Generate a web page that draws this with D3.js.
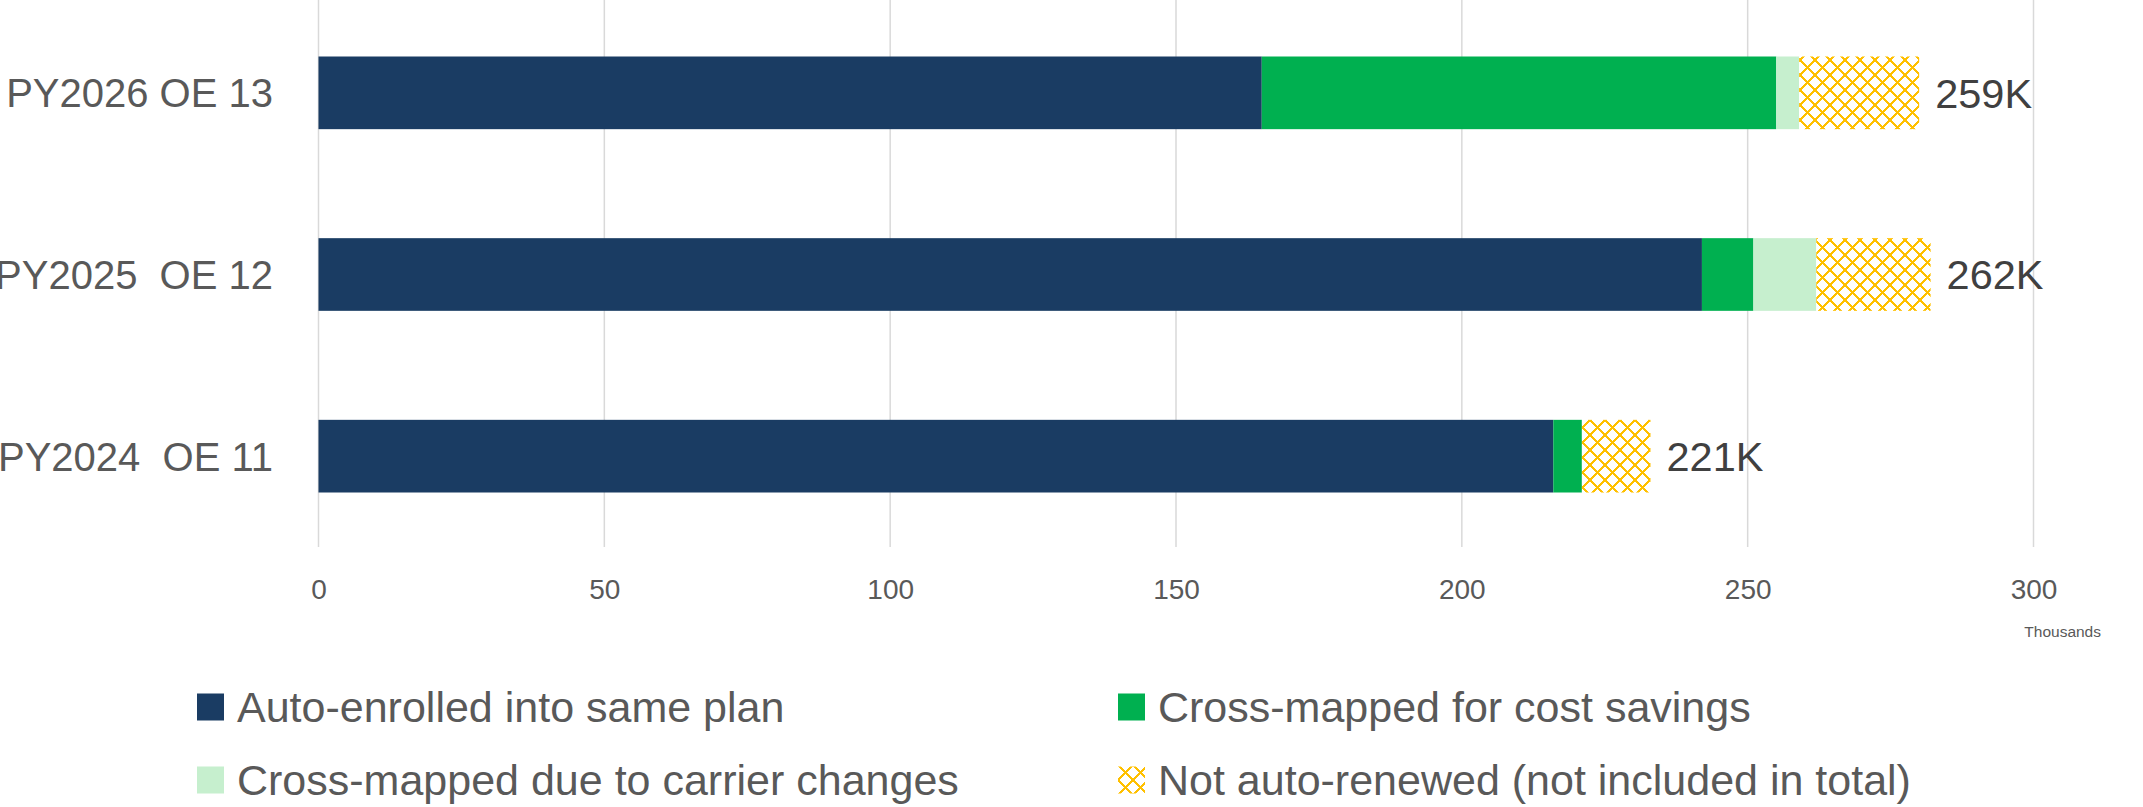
<!DOCTYPE html>
<html>
<head>
<meta charset="utf-8">
<script src="https://cdn.jsdelivr.net/npm/d3@7"></script>
<style>
  html, body { margin: 0; padding: 0; background: #fff; }
  svg { display: block; font-family: "Liberation Sans", Arial, sans-serif; }
</style>
</head>
<body>
<svg id="chart" width="2143" height="807"></svg>
<script>
// ---- Data (thousands) ----
const categories = ["PY2026 OE 13", "PY2025  OE 12", "PY2024  OE 11"];
const autoEnrolled = [165, 242, 216];
const costSavings = [90, 9, 5];
const carrierChanges = [4, 11, 0];
const notRenewed = [21, 20, 12];
const xTicks = [0, 50, 100, 150, 200, 250, 300];
const seriesNames = [
  "Auto-enrolled into same plan",
  "Cross-mapped for cost savings",
  "Cross-mapped due to carrier changes",
  "Not auto-renewed (not included in total)"
];
const seriesKeys = ["auto", "cost", "carrier", "notRenewed"];

const rows = categories.map((c, i) => ({
  cat: c,
  auto: autoEnrolled[i],
  cost: costSavings[i],
  carrier: carrierChanges[i],
  notRenewed: notRenewed[i]
}));

const svg = d3.select("#chart");

// pattern
const defs = svg.append("defs");
const pat = defs.append("pattern")
  .attr("id", "hatch")
  .attr("patternUnits", "userSpaceOnUse")
  .attr("width", 15).attr("height", 15);
pat.append("rect").attr("width", 15).attr("height", 15).attr("fill", "#fff");
pat.append("path")
  .attr("d", "M-2,-2 L17,17 M17,-2 L-2,17")
  .attr("stroke", "#FFC000")
  .attr("stroke-width", 1.5)
  .attr("shape-rendering", "crispEdges")
  .attr("fill", "none");

const colors = {
  auto: "#1A3C63",
  cost: "#00B050",
  carrier: "#C6EFCE",
  notRenewed: "url(#hatch)"
};

const x = d3.scaleLinear().domain([0, 300]).range([318.5, 2033.5]);
const y = d3.scaleBand().domain(categories).range([2, 547])
  .paddingInner(0.6).paddingOuter(0.3);

// gridlines
svg.append("g")
  .selectAll("line")
  .data(xTicks)
  .join("line")
  .attr("x1", d => x(d)).attr("x2", d => x(d))
  .attr("y1", 0).attr("y2", 547)
  .attr("stroke", "#D9D9D9")
  .attr("stroke-width", 1.5);

// x axis labels
const xAxis = d3.axisBottom(x).tickValues(xTicks).tickSize(0).tickPadding(0);
const gx = svg.append("g").attr("transform", "translate(0,579)").call(xAxis);
gx.select(".domain").remove();
gx.selectAll("text")
  .attr("font-size", 28)
  .attr("font-family", "Liberation Sans, Arial, sans-serif")
  .attr("fill", "#595959")
  .attr("dy", "0.71em")
  .attr("y", 0);

svg.append("text")
  .attr("x", 2101).attr("y", 637)
  .attr("text-anchor", "end")
  .attr("font-size", 15.5)
  .attr("fill", "#595959")
  .text("Thousands");

// stacked bars
const stack = d3.stack().keys(seriesKeys);
const stacked = stack(rows);

svg.append("g")
  .selectAll("g")
  .data(stacked)
  .join("g")
  .attr("fill", d => colors[d.key])
  .selectAll("rect")
  .data(d => d)
  .join("rect")
  .attr("x", d => x(d[0]))
  .attr("width", d => Math.max(0, x(d[1]) - x(d[0])))
  .attr("y", d => y(d.data.cat))
  .attr("height", y.bandwidth());

// category labels
svg.append("g")
  .selectAll("text")
  .data(categories)
  .join("text")
  .attr("x", 273)
  .attr("y", d => y(d) + y.bandwidth() / 2)
  .attr("dy", "0.36em")
  .attr("text-anchor", "end")
  .attr("font-size", 40)
  .attr("fill", "#595959")
  .style("white-space", "pre")
  .text(d => d);

// value labels
svg.append("g")
  .selectAll("text")
  .data(rows)
  .join("text")
  .attr("x", d => x(d.auto + d.cost + d.carrier + d.notRenewed) + 16)
  .attr("y", d => y(d.cat) + y.bandwidth() / 2)
  .attr("dy", "0.36em")
  .attr("font-size", 41.5)
  .attr("fill", "#404040")
  .text(d => (d.auto + d.cost + d.carrier) + "K");

// legend
const legendPos = [
  { x: 197, y: 707 },
  { x: 1118, y: 707 },
  { x: 197, y: 780 },
  { x: 1118, y: 780 }
];
const order = [0, 1, 2, 3];
const lg = svg.append("g")
  .selectAll("g")
  .data(order)
  .join("g")
  .attr("transform", i => `translate(${legendPos[i].x},${legendPos[i].y})`);
lg.append("rect")
  .attr("x", 0).attr("y", -13.5)
  .attr("width", 27).attr("height", 27)
  .attr("fill", i => colors[seriesKeys[i]]);
lg.append("text")
  .attr("x", 40).attr("y", 0)
  .attr("dy", "0.36em")
  .attr("font-size", 43)
  .attr("fill", "#595959")
  .text(i => seriesNames[i]);
</script>
</body>
</html>
